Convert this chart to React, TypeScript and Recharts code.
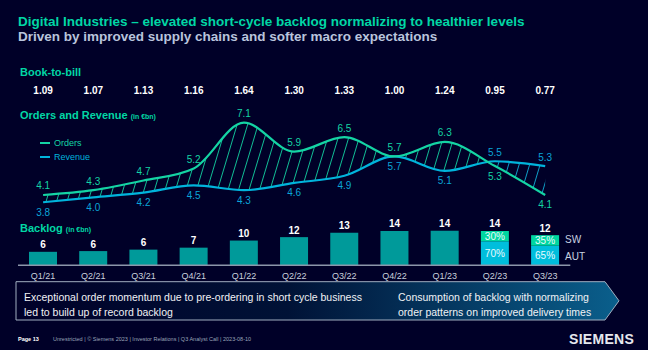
import React from "react";
import { ComposedChart, Bar, Line, Area, XAxis, YAxis, LabelList } from "recharts";

const quarters = ["Q1/21", "Q2/21", "Q3/21", "Q4/21", "Q1/22", "Q2/22", "Q3/22", "Q4/22", "Q1/23", "Q2/23", "Q3/23"];
const bookToBill = [1.09, 1.07, 1.13, 1.16, 1.64, 1.3, 1.33, 1.0, 1.24, 0.95, 0.77];
const orders = [4.1, 4.3, 4.7, 5.2, 7.1, 5.9, 6.5, 5.7, 6.3, 5.3, 4.1];
const revenue = [3.8, 4.0, 4.2, 4.5, 4.3, 4.6, 4.9, 5.7, 5.1, 5.5, 5.3];
const backlog = [5.5, 5.8, 6.4, 7.2, 10.1, 11.5, 13.3, 14.0, 14.1, 14.0, 12.3];
const swShare = [0, 0, 0, 0, 0, 0, 0, 0, 0, 0.3, 0.35];

const W = 648;
const H = 350;
const BG = "#000028";
const GREEN = "#00d7a5";
const ORDERS = "#14d4a4";
const CYAN = "#00b4dc";
const REV_LBL = "#0aa5d7";
const TEAL = "#009a9a";
const SW = "#00d7a0";
const AUT = "#00bedc";
const FONT = '"Liberation Sans", Arial, sans-serif';

const data = quarters.map((q, i) => {
  const s = swShare[i];
  return {
    q,
    orders: orders[i],
    revenue: revenue[i],
    spread: [revenue[i], orders[i]],
    base: s === 0 ? backlog[i] : 0,
    aut: s === 0 ? 0 : backlog[i] * (1 - s),
    sw: s === 0 ? 0 : backlog[i] * s,
  };
});

// hatch lines between the two curves, cyan where revenue is above orders
const hatch = Array.from({ length: 72 }, (_, k) => {
  const x0 = -60 + k * 10.5;
  const col = x0 + 0.3 * 70 < 487 ? "#12d2a2" : "#0fb0d8";
  return <line key={k} x1={x0} y1={240} x2={x0 + 0.3 * 140} y2={100} stroke={col} strokeWidth={0.9} />;
});

const T = ({ x, y, size, color, bold, children, style }: any) => (
  <div
    style={{
      position: "absolute",
      left: x,
      top: y,
      transform: "translateY(-50%)",
      fontSize: size,
      lineHeight: 1,
      color,
      fontWeight: bold ? "bold" : "normal",
      whiteSpace: "nowrap",
      fontFamily: FONT,
      ...style,
    }}
  >
    {children}
  </div>
);

// label lists read the quarter name, so the index is found from it
const idx = (p: any) => quarters.indexOf(p.value);

const OrdersLabel = (p: any) => {
  const i = idx(p);
  const below = i >= 9;
  return (
    <text x={p.x} y={p.y + (below ? 10 : -9)} fill={ORDERS} fontSize={10} fontFamily={FONT} textAnchor="middle" dominantBaseline="central">
      {orders[i].toFixed(1)}
    </text>
  );
};

const RevenueLabel = (p: any) => {
  const i = idx(p);
  const above = i >= 9;
  return (
    <text x={p.x} y={p.y + (above ? -9 : 10)} fill={REV_LBL} fontSize={10} fontFamily={FONT} textAnchor="middle" dominantBaseline="central">
      {revenue[i].toFixed(1)}
    </text>
  );
};

const TotalLabel = (p: any) => {
  const i = idx(p);
  if (i < 0 || !p.height || Math.abs(p.height) < 0.5) return null;
  return (
    <text x={p.x + p.width / 2} y={p.y - 7} fill="#ffffff" fontSize={10} fontWeight="bold" fontFamily={FONT} textAnchor="middle" dominantBaseline="central">
      {backlog[i].toFixed(0)}
    </text>
  );
};

const PctLabel = (sw: boolean) => (p: any) => {
  const i = idx(p);
  const s = swShare[i];
  if (!s || !p.height) return null;
  const v = sw ? s : 1 - s;
  return (
    <text x={p.x + p.width / 2} y={p.y + p.height / 2} fill="#e8fbff" fontSize={10} fontFamily={FONT} textAnchor="middle" dominantBaseline="central">
      {Math.round(v * 100)}%
    </text>
  );
};

const BtbTick = (p: any) => (
  <text x={p.x} y={90} fill="#ffffff" fontSize={10} fontWeight="bold" fontFamily={FONT} textAnchor="middle" dominantBaseline="central">
    {bookToBill[quarters.indexOf(p.payload.value)].toFixed(2)}
  </text>
);

const QTick = (p: any) => (
  <text x={p.x} y={275.5} fill="#c8d0dc" fontSize={9} fontFamily={FONT} textAnchor="middle" dominantBaseline="central">
    {p.payload.value}
  </text>
);

export default function App() {
  return (
    <div style={{ position: "fixed", left: 0, top: 0, width: W, height: H, background: BG, overflow: "hidden", fontFamily: FONT }}>
      <T x={18} y={22} size={13.5} color={GREEN} bold>
        Digital Industries – elevated short-cycle backlog normalizing to healthier levels
      </T>
      <T x={18} y={36.5} size={13.5} color="#b9c4dc" bold>
        Driven by improved supply chains and softer macro expectations
      </T>
      <T x={20} y={72} size={11} color={GREEN} bold>Book-to-bill</T>
      <T x={20} y={115} size={11} color={GREEN} bold>
        Orders and Revenue <span style={{ fontSize: 7 }}>(in €bn)</span>
      </T>
      <T x={20} y={228} size={11} color={GREEN} bold>
        Backlog <span style={{ fontSize: 7 }}>(in €bn)</span>
      </T>

      <div style={{ position: "absolute", left: 40, top: 142, width: 10, height: 2, background: ORDERS }} />
      <T x={54} y={143} size={9} color={ORDERS}>Orders</T>
      <div style={{ position: "absolute", left: 40, top: 156, width: 10, height: 2, background: CYAN }} />
      <T x={54} y={157} size={9} color={CYAN}>Revenue</T>

      <T x={565} y={240} size={10} color="#c8d2e0">SW</T>
      <T x={565} y={257} size={10} color="#c8d2e0">AUT</T>

      <div style={{ position: "absolute", left: 0, top: 0 }}>
        <ComposedChart width={W} height={H} data={data} margin={{ top: 99.05, right: 77.7, bottom: 64.7, left: 18 }}>
          <defs>
            <pattern id="hatch" patternUnits="userSpaceOnUse" x={0} y={0} width={W} height={H}>
              {hatch}
            </pattern>
          </defs>
          <XAxis dataKey="q" scale="band" height={20} interval={0} tickLine={false} axisLine={{ stroke: "#8c96aa", strokeWidth: 1.5 }} tick={<QTick />} />
          <XAxis xAxisId="btb" dataKey="q" scale="band" orientation="top" height={14} interval={0} tickLine={false} axisLine={false} tick={<BtbTick />} />
          <YAxis yAxisId="lines" hide domain={[1.1826, 7.5]} />
          <YAxis yAxisId="bars" hide domain={[0, 62.14]} />
          <Bar yAxisId="bars" dataKey="base" stackId="bk" fill={TEAL} barSize={28} isAnimationActive={false}>
            <LabelList dataKey="q" content={<TotalLabel />} />
          </Bar>
          <Bar yAxisId="bars" dataKey="aut" stackId="bk" fill={AUT} barSize={28} isAnimationActive={false}>
            <LabelList dataKey="q" content={PctLabel(false)} />
          </Bar>
          <Bar yAxisId="bars" dataKey="sw" stackId="bk" fill={SW} barSize={28} isAnimationActive={false}>
            <LabelList dataKey="q" content={PctLabel(true)} />
            <LabelList dataKey="q" content={<TotalLabel />} />
          </Bar>
          <Area yAxisId="lines" dataKey="spread" type="monotone" stroke="none" fill="url(#hatch)" fillOpacity={1} isAnimationActive={false} />
          <Line yAxisId="lines" dataKey="revenue" type="monotone" stroke={CYAN} strokeWidth={2.2} dot={false} isAnimationActive={false}>
            <LabelList dataKey="q" content={<RevenueLabel />} />
          </Line>
          <Line yAxisId="lines" dataKey="orders" type="monotone" stroke={ORDERS} strokeWidth={2.2} dot={false} isAnimationActive={false}>
            <LabelList dataKey="q" content={<OrdersLabel />} />
          </Line>
        </ComposedChart>
      </div>

      <svg width={W} height={H} style={{ position: "absolute", left: 0, top: 0, pointerEvents: "none" }}>
        <defs>
          <linearGradient id="boxGrad" x1="0" y1="0" x2="1" y2="0">
            <stop offset="0%" stopColor="#000028" />
            <stop offset="45%" stopColor="#001236" />
            <stop offset="100%" stopColor="#0a5f8c" />
          </linearGradient>
        </defs>
        <path d="M16 281.7 L605 281.7 L619 300.8 L605 320 L16 320 Z" fill="url(#boxGrad)" stroke="#a0aec0" strokeWidth={1} />
      </svg>
      <T x={24} y={297} size={10.5} color="#f0f2f5">Exceptional order momentum due to pre-ordering in short cycle business</T>
      <T x={24} y={311.5} size={10.5} color="#f0f2f5">led to build up of record backlog</T>
      <T x={398} y={297} size={10.5} color="#f0f2f5">Consumption of backlog with normalizing</T>
      <T x={398} y={311.5} size={10.5} color="#f0f2f5">order patterns on improved delivery times</T>

      <T x={18} y={340} size={5.5} color="#ffffff" bold>Page 13</T>
      <T x={53} y={340} size={5.5} color="#9aa5b8">
        Unrestricted | © Siemens 2023 | Investor Relations | Q3 Analyst Call | 2023-08-10
      </T>
      <T x={569} y={339} size={14} color="#e6e8ee" bold style={{ letterSpacing: 0.3 }}>SIEMENS</T>
    </div>
  );
}
